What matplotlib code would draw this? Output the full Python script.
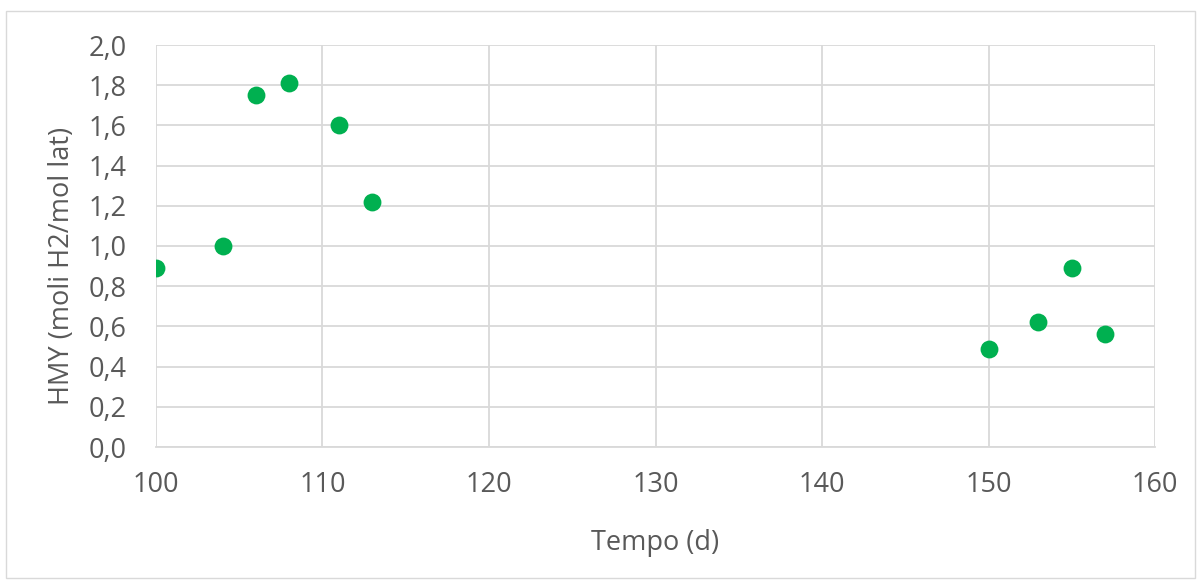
import matplotlib
matplotlib.use("Agg")
import matplotlib.pyplot as plt
from matplotlib.patches import Rectangle

tempo = [100, 104, 106, 108, 111, 113, 150, 153, 155, 157]
hmy = [0.89, 1.00, 1.75, 1.81, 1.60, 1.22, 0.49, 0.62, 0.89, 0.56]
x_ticks = [100, 110, 120, 130, 140, 150, 160]
y_ticks = [0.0, 0.2, 0.4, 0.6, 0.8, 1.0, 1.2, 1.4, 1.6, 1.8, 2.0]

plt.rcParams['font.family'] = ['Open Sans', 'DejaVu Sans']
W, H = 1202, 583
fig = plt.figure(figsize=(W / 100, H / 100), dpi=100)
ax = fig.add_axes([156 / W, 1 - 447 / H, (1155 - 156) / W, (447 - 45) / H])

fig.patches.append(Rectangle((6 / W, 5 / H), 1189 / W, 567 / H, transform=fig.transFigure,
                             fill=False, edgecolor='#D9D9D9', linewidth=1))

grid_c = '#D9D9D9'
text_c = '#595959'
fs = 19.5
ax.scatter(tempo, hmy, s=165, color='#00B050', zorder=3, linewidths=0)
ax.set_xlim(100, 160)
ax.set_ylim(0, 2.0)
ax.set_xticks(x_ticks)
ax.set_yticks(y_ticks)
ax.set_yticklabels([f"{v:.1f}".replace('.', ',') for v in y_ticks])
ax.set_xticklabels([str(v) for v in x_ticks])
ax.grid(True, color=grid_c, linewidth=1.3)
ax.set_axisbelow(True)
for s in ['top', 'right', 'left']:
    ax.spines[s].set_visible(False)
ax.spines['bottom'].set_color(grid_c)
ax.spines['bottom'].set_linewidth(1.3)
ax.tick_params(axis='both', length=0, labelsize=fs, colors=text_c)
ax.tick_params(axis='y', pad=21)
ax.tick_params(axis='x', pad=17)
ax.set_xlabel('Tempo (d)', fontsize=fs, color=text_c, labelpad=22)
ax.set_ylabel('HMY (moli H2/mol lat)', fontsize=fs, color=text_c)
ax.yaxis.set_label_coords((62 - 156) / (1155 - 156), (447 - 266) / 402)
ax.yaxis.label.set_va('center')

fig.savefig('out.png', dpi=100)
